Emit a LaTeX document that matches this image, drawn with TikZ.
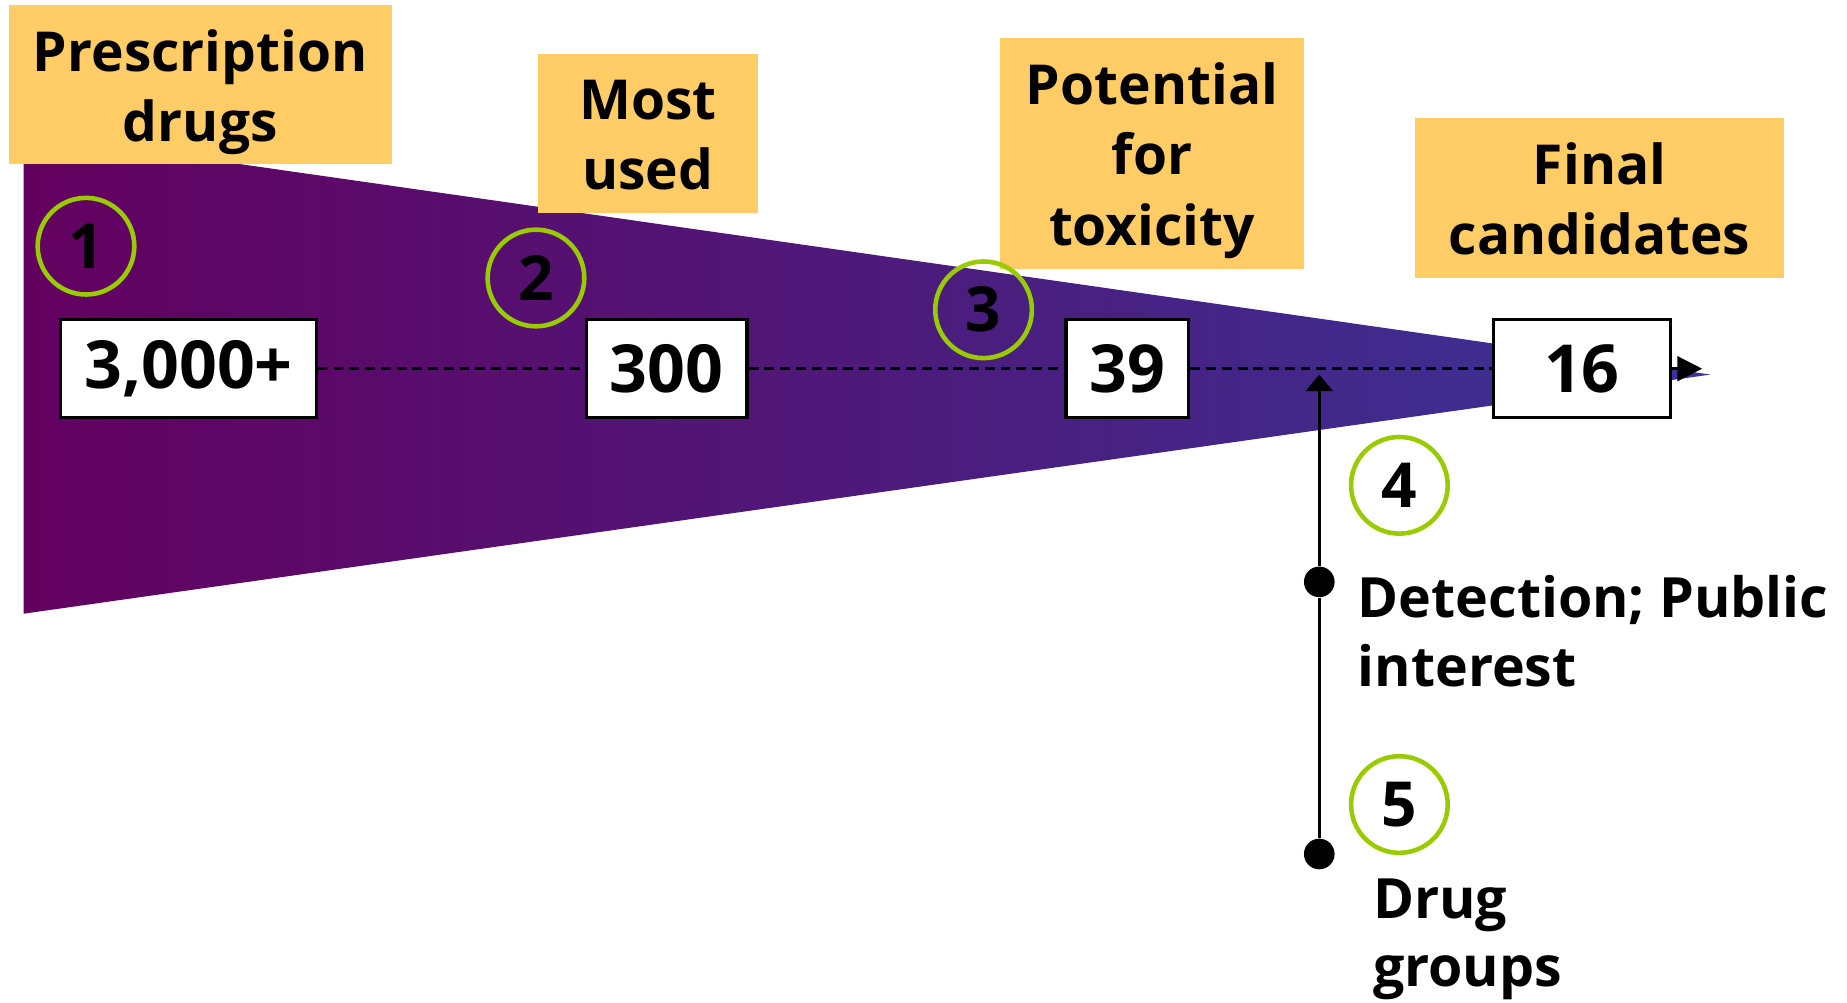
\documentclass[tikz,border=0pt]{standalone}
\usepackage{fontspec}
\setmainfont{Open Sans}
\usetikzlibrary{arrows.meta, positioning, calc}
\definecolor{labelyellow} {RGB}{255, 204, 102}
\definecolor{stepgreen}   {RGB}{153, 204,   0}
\definecolor{funnelleft}  {RGB}{ 99,   0,  95}
\definecolor{funnelright} {RGB}{ 56,  52, 150}

% label text, set a little low in its box
\newcommand{\lowstack}[1]{\raisebox{-1.8pt}[\height][\depth]{\begin{tabular}{@{}c@{}}#1\end{tabular}}}

\tikzset{
	stagelabel/.style={fill=labelyellow, inner sep=2pt,
		font=\fontsize{13.3}{17}\selectfont\bfseries},
	countbox/.style={draw, line width=0.8pt, fill=white, minimum height=0.83cm,
		inner xsep=0.2cm, font=\fontsize{16}{19}\selectfont\bfseries},
	stepmark/.style={circle, draw=stepgreen, line width=1.1pt, minimum size=0.82cm,
		inner sep=0pt, font=\fontsize{15}{18}\selectfont\bfseries},
	flowline/.style={dash pattern=on 2.4pt off 1.4pt, line width=0.6pt},
	stopdot/.style={circle, fill=black, minimum size=0.26cm, inner sep=0pt},
	sidenote/.style={align=left, anchor=north west, inner sep=0pt,
		font=\fontsize{13.4}{16.5}\selectfont\bfseries}
}

\begin{document}
\begin{tikzpicture}[x=0.01cm, y=-0.01cm]
	\useasboundingbox (0,0) rectangle (1568,851);
	% funnel
	\shade[left color=funnelleft, right color=funnelright] (20,113) -- (1452,318) -- (20,521) -- cycle;

	% stage labels
	\node[stagelabel, minimum width=3.25cm, minimum height=1.35cm] (lab1) at (170,72) {\lowstack{Prescription\\drugs}};
	\node[stagelabel, minimum width=1.87cm, minimum height=1.35cm] (lab2) at (550,113) {\lowstack{Most\\used}};
	\node[stagelabel, minimum width=2.58cm, minimum height=1.96cm] (lab3) at (978,130) {\lowstack{Potential\\for\\toxicity}};
	\node[stagelabel, minimum width=3.13cm, minimum height=1.36cm] (lab4) at (1358,168) {\lowstack{Final\\candidates}};

	% counts
	\node[countbox] (n1) at (160,313) {3,000+};
	\node[countbox] (n2) at (566,313) {300};
	\node[countbox] (n3) at (957,313) {39};
	\node[countbox, minimum width=1.5cm] (n4) at (1343,313) {16};
	\coordinate (tip) at (1445,313);

	\draw[flowline] (n1) -- (n2);
	\draw[flowline] (n2) -- (n3);
	\draw[flowline] (n3) -- (n4);
	\draw[flowline, -{Triangle[length=6pt,width=6pt]}] (n4) -- (tip);

	% steps
	\node[stepmark] (c1) at (73,209) {1};
	\node[stepmark] (c2) at (455,236) {2};
	\node[stepmark] (c3) at (835,263) {3};
	\node[stepmark] (c4) at (1188,412) {4};
	\node[stepmark] (c5) at (1188,683) {5};

	% side line
	\node[stopdot] (d4) at (1120,494) {};
	\node[stopdot] (d5) at (1120,725) {};
	\coordinate (hit) at (1120,318);
	\draw[line width=0.7pt] (d5) -- (d4);
	\draw[line width=0.7pt, -{Triangle[length=4pt,width=6.5pt]}] (d4) -- (hit);

	\node[sidenote] (t4) at (1152,488) {Detection; Public\\interest};
	\node[sidenote] (t5) at (1165,745) {Drug\\groups};
\end{tikzpicture}
\end{document}
